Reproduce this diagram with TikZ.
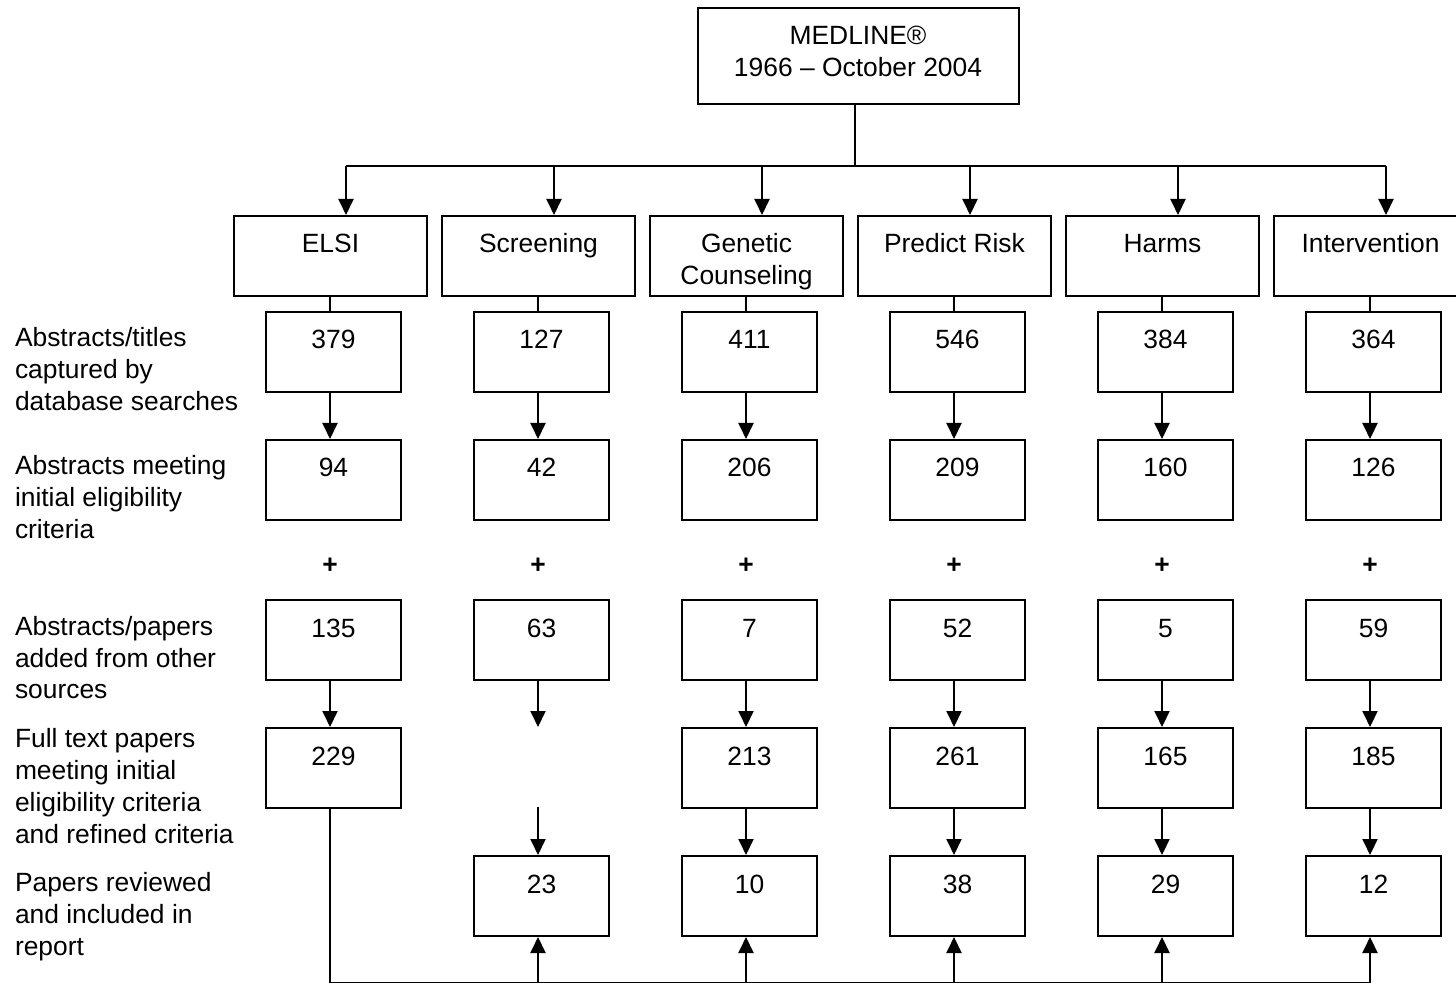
\documentclass[tikz,border=0pt]{standalone}
\usepackage{fontspec}
\setmainfont{Liberation Sans}
\usetikzlibrary{arrows.meta}
\newcommand{\fsz}{\fontsize{13.2}{16}\selectfont}
\newcommand{\tl}[1]{\begin{tabular}[t]{@{}l@{}}#1\end{tabular}}
\newcommand{\tc}[1]{\begin{tabular}[t]{@{}c@{}}#1\end{tabular}}
\begin{document}
\begin{tikzpicture}[x=0.5pt,y=-0.5pt,
  line width=1pt,
  arr/.style={-{Triangle[length=8pt,width=7.5pt]}},
  bx/.style={draw, rectangle, inner sep=0pt, font=\fsz, text height=18.5pt, text depth=21.5pt, anchor=north},
  catbox/.style={bx, minimum width=96.5pt},
  numbox/.style={bx, minimum width=67.5pt},
  topbox/.style={bx, minimum width=160.5pt, text depth=29.5pt},
  side/.style={font=\fsz, anchor=base west, inner sep=0pt},
  plus/.style={font=\fsz\bfseries, anchor=base, inner sep=0pt}]
\useasboundingbox (0,0) rectangle (1456,983);

% top box
\node[topbox] (med) at (858,7) {\tc{MEDLINE®\\1966 – October 2004}};

% category boxes
\node[catbox] (c1) at (330.5,215) {ELSI};
\node[catbox] (c2) at (538.5,215) {Screening};
\node[catbox] (c3) at (746.5,215) {\tc{Genetic\\Counseling}};
\node[catbox] (c4) at (954.5,215) {Predict Risk};
\node[catbox] (c5) at (1162.5,215) {Harms};
\node[catbox] (c6) at (1370.5,215) {Intervention};

% number boxes
\foreach \v [count=\i] in {379,127,411,546,384,364}
  \node[numbox] (r1-\i) at ({333.5+208*(\i-1)},311) {\v};
\foreach \v [count=\i] in {94,42,206,209,160,126}
  \node[numbox] (r2-\i) at ({333.5+208*(\i-1)},439) {\v};
\foreach \v [count=\i] in {135,63,7,52,5,59}
  \node[numbox] (r3-\i) at ({333.5+208*(\i-1)},599) {\v};
\foreach \i/\v in {1/229,3/213,4/261,5/165,6/185}
  \node[numbox] (r4-\i) at ({333.5+208*(\i-1)},727) {\v};
\foreach \i/\v in {2/23,3/10,4/38,5/29,6/12}
  \node[numbox] (r5-\i) at ({333.5+208*(\i-1)},855) {\v};

% plus signs
\foreach \i in {1,...,6}
  \node[plus] (p\i) at ({330+208*(\i-1)},574) {+};

% side labels
\node[side] (l1) at (14,347) {\tl{Abstracts/titles\\captured by\\database searches}};
\node[side] (l2) at (14,475) {\tl{Abstracts meeting\\initial eligibility\\criteria}};
\node[side] (l3) at (14,635) {\tl{Abstracts/papers\\added from other\\sources}};
\node[side] (l4) at (14,747) {\tl{Full text papers\\meeting initial\\eligibility criteria\\and refined criteria}};
\node[side] (l5) at (14,891) {\tl{Papers reviewed\\and included in\\report}};

% top connectors
\coordinate (mx) at (855,166);
\draw (med.south -| mx) -- (mx);
\coordinate (bL) at (346,166);
\coordinate (bR) at (1386,166);
\draw (bL) -- (bR);
\foreach \i in {1,...,6} {
  \coordinate (b\i) at ({346+208*(\i-1)},166);
  \draw[arr] (b\i) -- (c\i.north -| b\i);
}

% column connectors
\foreach \i in {1,...,6} {
  \coordinate (x\i) at ({330+208*(\i-1)},0);
  \draw (c\i.south -| x\i) -- (r1-\i.north -| x\i);
  \draw[arr] (r1-\i.south -| x\i) -- (r2-\i.north -| x\i);
}
\foreach \i in {1,3,4,5,6}
  \draw[arr] (r3-\i.south -| x\i) -- (r4-\i.north -| x\i);
\coordinate (g2a) at (538,727);
\coordinate (g2b) at (538,807);
\draw[arr] (r3-2.south -| x2) -- (g2a);
\draw[arr] (g2b) -- (r5-2.north -| x2);
\foreach \i in {3,4,5,6}
  \draw[arr] (r4-\i.south -| x\i) -- (r5-\i.north -| x\i);

% bottom feedback line
\coordinate (bot) at (330,982.5);
\draw (r4-1.south -| x1) -- (bot) -- (bot -| x6);
\foreach \i in {2,...,6}
  \draw[arr] (bot -| x\i) -- (r5-\i.south -| x\i);
\end{tikzpicture}
\end{document}
